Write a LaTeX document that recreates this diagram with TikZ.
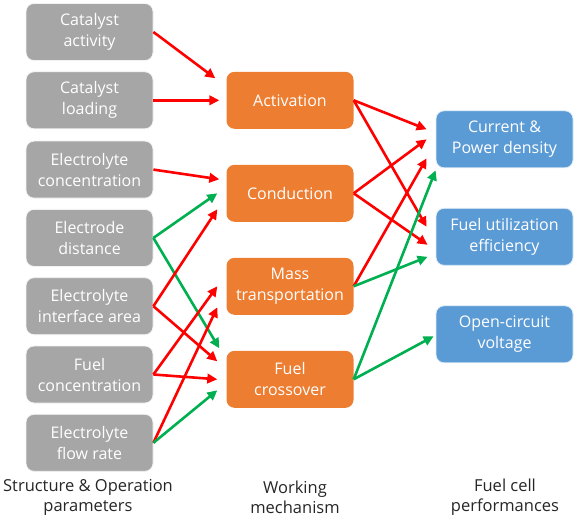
\documentclass[tikz,border=0pt]{standalone}
\usepackage{fontspec}
\setmainfont{Open Sans}
\usepackage{tikz}
\usetikzlibrary{arrows.meta}

\definecolor{boxgrey}{HTML}{A6A6A6}
\definecolor{boxorange}{HTML}{ED7D31}
\definecolor{boxblue}{HTML}{5B9BD5}
\definecolor{arrred}{HTML}{FF0000}
\definecolor{arrgreen}{HTML}{00B050}
\definecolor{labeltext}{HTML}{262626}

\begin{document}
\begin{tikzpicture}[x=1pt, y=-1pt, node distance=68.3pt,
		basebox/.style={rounded corners=8pt, minimum width=127pt, minimum height=57pt,
		align=center, text=white, font=\fontsize{16}{21}\selectfont},
		parambox/.style={basebox, fill=boxgrey, draw=white!85!boxgrey, line width=0.8pt},
		mechbox/.style={basebox, fill=boxorange},
		perfbox/.style={basebox, fill=boxblue, draw=white!80!boxblue, line width=0.8pt, minimum width=137pt},
		colname/.style={align=center, text=labeltext, font=\fontsize{16.5}{20}\selectfont},
		redarrow/.style={draw=arrred, line width=2.6pt, -{Triangle[length=10pt,width=9.5pt]}},
		greenarrow/.style={draw=arrgreen, line width=2.6pt, -{Triangle[length=10pt,width=9.5pt]}}
		]
		\useasboundingbox (0,0) rectangle (580,521);

		% parameters
		\node[parambox](P0) at (89.5,32){Catalyst\\activity};
		\node[parambox, below of = P0](P1){Catalyst\\loading};
		\node[parambox, below of = P1, yshift = -1pt](P2){Electrolyte\\concentration};
		\node[parambox, below of = P2](P3){Electrode\\distance};
		\node[parambox, below of = P3](P4){Electrolyte\\interface area};
		\node[parambox, below of = P4](P5){Fuel\\concentration};
		\node[parambox, below of = P5](P6){Electrolyte\\flow rate};

		% mechanisms
		\node[mechbox, right of = P1, xshift = 132.2pt](M0){Activation};
		\node[mechbox, below of = M0, yshift = -24.7pt](M1){Conduction};
		\node[mechbox, below of = M1, yshift = -24.7pt](M2){Mass\\transportation};
		\node[mechbox, below of = M2, yshift = -24.7pt](M3){Fuel\\crossover};

		% performances
		\node[perfbox, right of = M0, xshift = 146.2pt, yshift = -39pt](F0){Current \&\\Power density};
		\node[perfbox, below of = F0, yshift = -29.2pt](F1){Fuel utilization\\efficiency};
		\node[perfbox, below of = F1, yshift = -29.2pt](F2){Open-circuit\\voltage};

		% column names
		\node[colname](C0) at (88,497){Structure \& Operation\\parameters};
		\node[colname](C1) at (295,497){Working\\mechanism};
		\node[colname](C2) at (505,497){Fuel cell\\performances};

		% parameters -> mechanisms
		\draw[redarrow] (P0.east) -- ([xshift=-11pt, yshift=22pt]M0.west);
		\draw[redarrow] (P1.east) -- ([xshift=-7pt]M0.west);
		\draw[redarrow] (P2.east) -- ([xshift=-7pt, yshift=14pt]M1.west);
		\draw[greenarrow] (P3.east) -- ([xshift=-9pt]M1.west);
		\draw[greenarrow] (P3.east) -- ([xshift=-7pt, yshift=31pt]M3.west);
		\draw[redarrow] (P4.east) -- ([xshift=-9pt, yshift=-16pt]M1.west);
		\draw[redarrow] (P4.east) -- ([xshift=-9pt, yshift=18pt]M3.west);
		\draw[redarrow] (P5.east) -- ([xshift=-9pt]M2.west);
		\draw[redarrow] (P5.east) -- ([xshift=-9pt]M3.west);
		\draw[redarrow] (P6.east) -- ([xshift=-9pt, yshift=-21pt]M2.west);
		\draw[greenarrow] (P6.east) -- ([xshift=-9pt, yshift=-11pt]M3.west);

		% mechanisms -> performances
		\draw[redarrow] (M0.east) -- ([xshift=-9pt, yshift=10pt]F0.west);
		\draw[redarrow] (M0.east) -- ([xshift=-9pt, yshift=10pt]F1.west);
		\draw[redarrow] (M1.east) -- ([xshift=-9pt]F0.west);
		\draw[redarrow] (M1.east) -- ([xshift=-8pt, yshift=-8pt]F1.west);
		\draw[redarrow] (M2.east) -- ([xshift=-9pt, yshift=-19pt]F0.west);
		\draw[greenarrow] (M2.east) -- ([xshift=-8pt, yshift=-20pt]F1.west);
		\draw[greenarrow] (M3.east) -- ([xshift=0pt, yshift=-31pt]F0.west);
		\draw[greenarrow] (M3.east) -- ([xshift=-2pt, yshift=-2pt]F2.west);
	\end{tikzpicture}
\end{document}
